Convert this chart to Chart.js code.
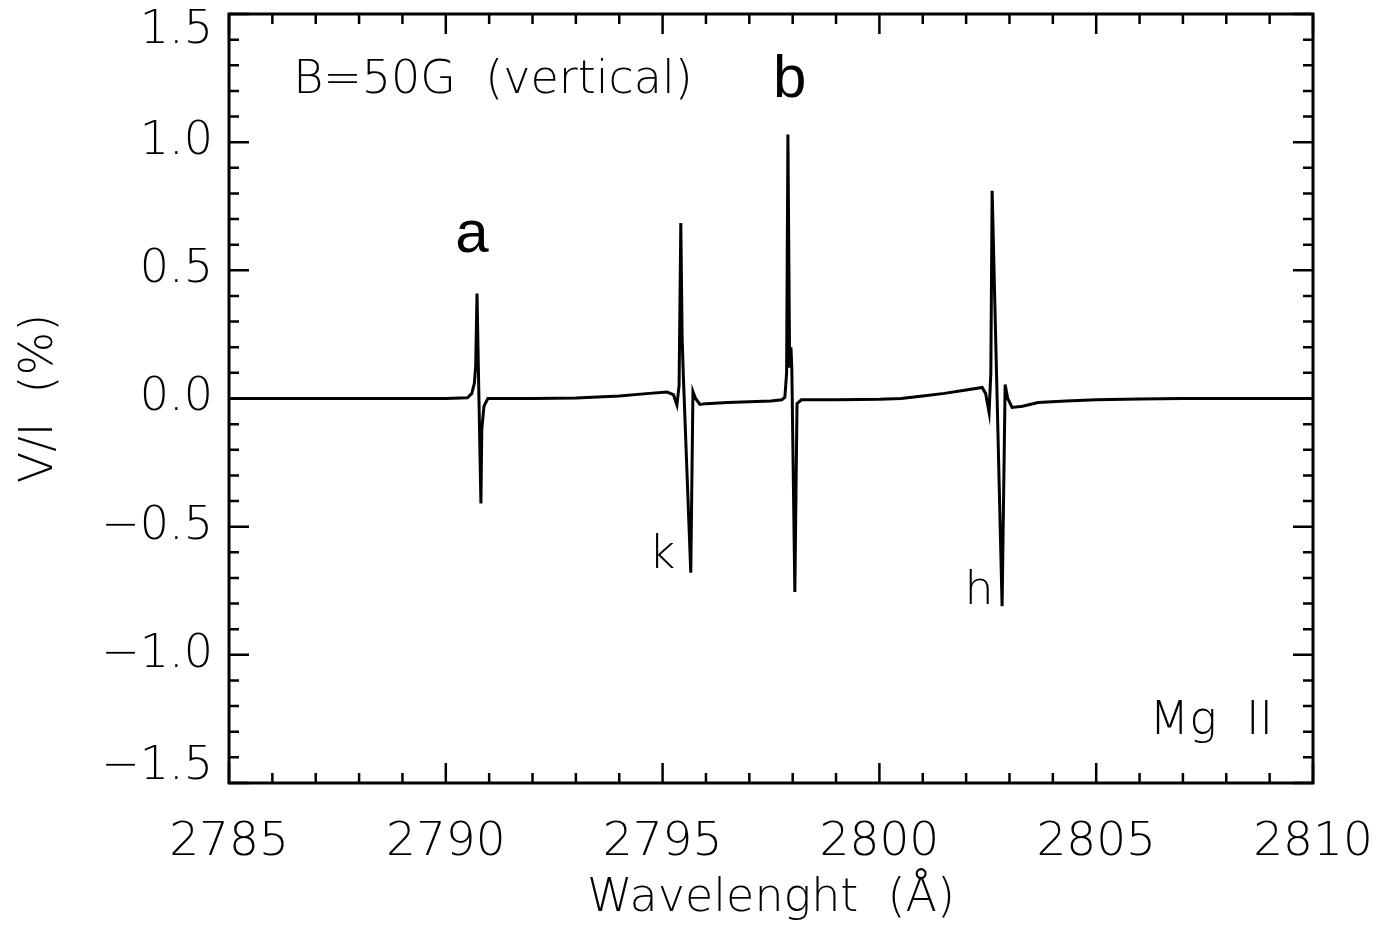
<!DOCTYPE html>
<html>
<head>
<meta charset="utf-8">
<script src="https://cdn.jsdelivr.net/npm/chart.js@4/dist/chart.umd.min.js"></script>
<style>
  html, body { margin: 0; padding: 0; background: #fff; }
  #wrap { width: 1378px; height: 927px; }
</style>
</head>
<body>
<div id="wrap"><canvas id="chart" width="1378" height="927"></canvas></div>
<script>
// ── Data ────────────────────────────────────
const wavelength = [
    2785.0, 2790.0, 2790.50, 2790.60, 2790.66, 2790.69, 2790.72, 2790.75, 2790.81, 2790.83, 2790.88, 2790.97,
    2792.0, 2793.0, 2794.0, 2794.7, 2795.1, 2795.25, 2795.33, 2795.38, 2795.42, 2795.45, 2795.48, 2795.65,
    2795.70, 2795.76, 2795.86, 2796.0, 2796.5, 2797.0, 2797.5, 2797.75, 2797.82, 2797.86, 2797.89, 2797.93,
    2797.96, 2797.98, 2798.05, 2798.10, 2798.2, 2799.0, 2800.0, 2800.5, 2801.0, 2801.5, 2802.0, 2802.37,
    2802.45, 2802.53, 2802.57, 2802.60, 2802.83, 2802.90, 2802.96, 2803.06, 2803.3, 2803.66, 2804.3, 2805.0,
    2806.0, 2807.0, 2810.0
];
const stokesV = [
    0.0, 0.0, 0.003, 0.02, 0.06, 0.13, 0.41, 0.13, -0.41, -0.12, -0.03, 0.0,
    0.0, 0.002, 0.01, 0.02, 0.025, 0.015, -0.025, 0.05, 0.685, 0.24, 0.08, -0.68,
    0.027, 0.0, -0.023, -0.02, -0.016, -0.013, -0.01, -0.005, 0.005, 0.1, 1.03, 0.12,
    0.2, 0.12, -0.755, -0.02, -0.005, -0.005, -0.003, 0.0, 0.01, 0.02, 0.033, 0.043,
    0.02, -0.055, 0.1, 0.81, -0.81, 0.055, 0.0, -0.035, -0.03, -0.016, -0.01, -0.005,
    -0.002, 0.0, 0.0
];
const xTicks = [2785, 2790, 2795, 2800, 2805, 2810];
const yTicks = [-1.5, -1.0, -0.5, 0.0, 0.5, 1.0, 1.5];
const notes = [
    { text: 'a',                 x: 2790.60, y: 0.57,  big: true,  align: 'center' },
    { text: 'b',                 x: 2797.93, y: 1.176, big: true,  align: 'center' },
    { text: 'k',                 x: 2794.99, y: -0.66, big: false, align: 'center' },
    { text: 'h',                 x: 2802.30, y: -0.80, big: false, align: 'center' },
    { text: 'B=50G  (vertical)', x: 2786.48, y: 1.19,  big: false, align: 'left' },
    { text: 'Mg  II',            x: 2809.08, y: -1.31, big: false, align: 'right' }
];

const FONT = '"DejaVu Sans", sans-serif';

// end labels of the y axis sit inside the box, like the original
const edgeLabels = {
    id: 'edgeLabels',
    beforeDraw(chart) {
        const items = chart.scales.y.getLabelItems(chart.chartArea);
        if (!items.length) return;
        items[0].options.translation[1] -= 16;
        items[items.length - 1].options.translation[1] += 17;
    }
};

// frame, inward ticks on all four sides, text notes
const framePlugin = {
    id: 'frame',
    afterDraw(chart) {
        const { ctx, chartArea: a, scales: { x, y } } = chart;
        ctx.save();
        ctx.strokeStyle = '#000';
        ctx.lineWidth = 3;
        ctx.strokeRect(a.left, a.top, a.right - a.left, a.bottom - a.top);
        ctx.lineWidth = 2.5;
        ctx.beginPath();
        for (let w = 2785; w <= 2810; w += 1) {
            const px = x.getPixelForValue(w);
            const len = (w % 5 === 0) ? 20 : 10;
            ctx.moveTo(px, a.bottom); ctx.lineTo(px, a.bottom - len);
            ctx.moveTo(px, a.top);    ctx.lineTo(px, a.top + len);
        }
        for (let i = -15; i <= 15; i++) {
            const py = y.getPixelForValue(i / 10);
            const len = (i % 5 === 0) ? 20 : 10;
            ctx.moveTo(a.left, py);  ctx.lineTo(a.left + len, py);
            ctx.moveTo(a.right, py); ctx.lineTo(a.right - len, py);
        }
        ctx.stroke();

        ctx.fillStyle = '#000';
        ctx.textBaseline = 'alphabetic';
        notes.forEach(n => {
            ctx.font = n.big ? `60px "Liberation Sans", sans-serif` : `200 46px ${FONT}`;
            ctx.textAlign = n.align;
            ctx.fillText(n.text, x.getPixelForValue(n.x), y.getPixelForValue(n.y));
        });
        ctx.restore();
    }
};

// keep the plot box where the reference has it: no extra room for overhanging labels
const noPad = s => { s.paddingTop = 0; s.paddingBottom = 0; s.paddingLeft = 0; s.paddingRight = 0; };

new Chart(document.getElementById('chart').getContext('2d'), {
    type: 'line',
    data: {
        datasets: [{
            data: wavelength.map((w, i) => ({ x: w, y: stokesV[i] })),
            borderColor: '#000',
            borderWidth: 3,
            pointRadius: 0,
            tension: 0,
            fill: false
        }]
    },
    options: {
        responsive: false,
        animation: false,
        layout: { padding: { top: 14, right: 65, left: 0, bottom: 0 } },
        plugins: { legend: { display: false }, tooltip: { enabled: false } },
        scales: {
            x: {
                type: 'linear', min: 2785, max: 2810,
                grid: { display: false }, border: { display: false },
                afterFit: s => { s.height = 144; noPad(s); },
                afterBuildTicks: s => { s.ticks = xTicks.map(v => ({ value: v })); },
                ticks: { color: '#000', padding: 24, maxRotation: 0, font: { family: FONT, size: 47, weight: 200 }, callback: v => String(v) },
                title: { display: true, text: 'Wavelenght  (Å)', color: '#000', padding: { top: 0, bottom: 0 }, font: { family: FONT, size: 46, weight: 200 } }
            },
            y: {
                type: 'linear', min: -1.5, max: 1.5,
                grid: { display: false }, border: { display: false },
                afterFit: s => { s.width = 229; noPad(s); },
                afterBuildTicks: s => { s.ticks = yTicks.map(v => ({ value: v })); },
                ticks: { color: '#000', padding: 8, font: { family: FONT, size: 46, weight: 200 }, callback: v => v.toFixed(1).replace('-', '\u2212') },
                title: { display: true, text: 'V/I  (%)', color: '#000', padding: { top: 12, bottom: 0 }, font: { family: FONT, size: 46, weight: 200 } }
            }
        }
    },
    plugins: [edgeLabels, framePlugin]
});
</script>
</body>
</html>
